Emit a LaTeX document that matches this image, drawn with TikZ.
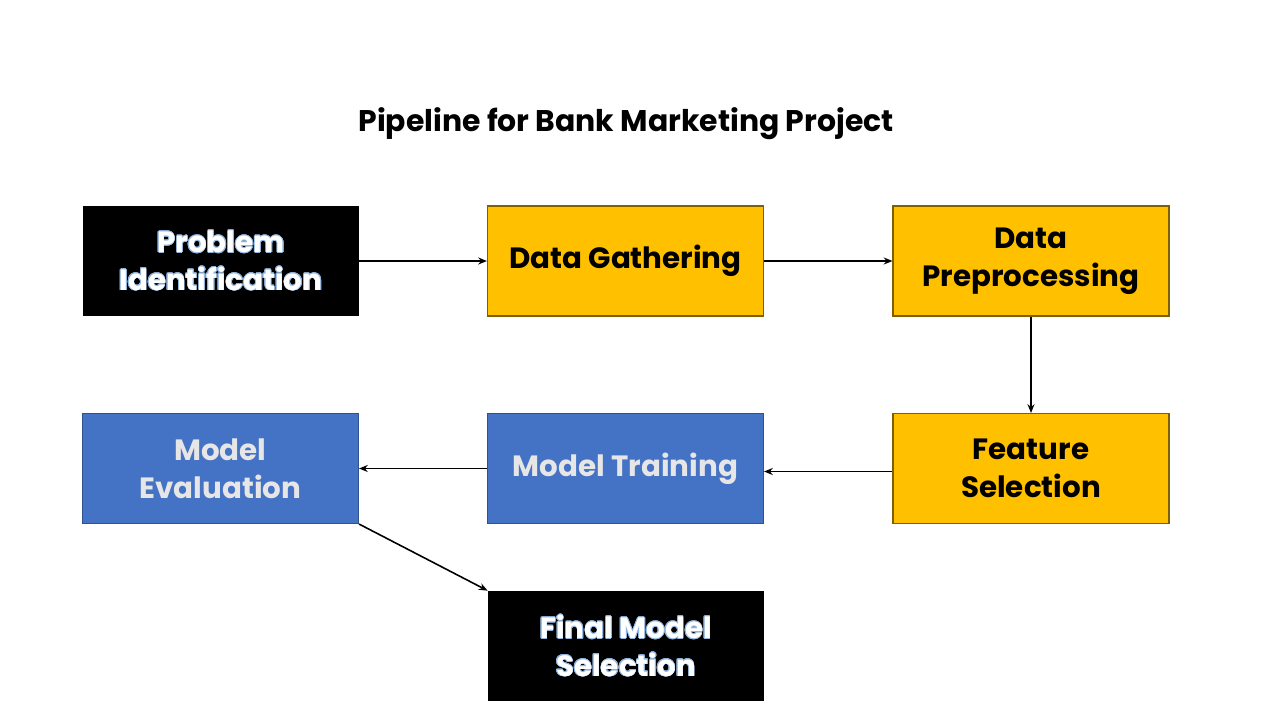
\documentclass[tikz,border=0pt]{standalone}
\usepackage{fontspec}
\setmainfont{Poppins}[UprightFont=* Bold,BoldFont=* Bold]
\usepackage{contour}
\contourlength{0.35pt}
\usetikzlibrary{arrows.meta}
\definecolor{gold}{HTML}{FFC000}
\definecolor{goldedge}{HTML}{7F6000}
\definecolor{bblue}{HTML}{4472C4}
\definecolor{bedge}{HTML}{2F528F}
\definecolor{lgray}{HTML}{E7E6E6}
\definecolor{glow}{HTML}{8FB4DE}
\begin{document}
\begin{tikzpicture}[x=0.02cm,y=-0.02cm,
  box/.style={minimum width=276*0.02cm,minimum height=110*0.02cm,inner sep=0pt,align=center,font=\fontsize{16.7}{21.5}\selectfont},
  blackbox/.style={box,fill=black,text=white},
  goldbox/.style={box,fill=gold,draw=goldedge,line width=0.6pt,text=black},
  bluebox/.style={box,fill=bblue,draw=bedge,line width=0.6pt,text=lgray},
  conn/.style={-{Stealth[length=5pt,width=4pt]},line width=0.9pt,black}]
\useasboundingbox (0,0) rectangle (1280,720);
\fill[white] (0,0) rectangle (1280,720);
\node[font=\fontsize{17}{20}\selectfont] (title) at (626,124) {Pipeline for Bank Marketing Project};
\node[blackbox] (pi) at (221,261) {\contour{glow}{Problem}\\\contour{glow}{Identification}};
\node[goldbox] (dg) at (625.5,261) {Data Gathering};
\node[goldbox] (dp) at (1031,261) {Data\\Preprocessing};
\node[goldbox] (fs) at (1031,468.5) {Feature\\Selection};
\node[bluebox] (mt) at (625.5,468.5) {Model Training};
\node[bluebox] (me) at (220.5,468.5) {Model\\Evaluation};
\node[blackbox] (fm) at (626,646) {\contour{glow}{Final Model}\\\contour{glow}{Selection}};
\draw[conn] (pi.east) -- (dg.west);
\draw[conn] (dg.east) -- (dp.west);
\draw[conn] (dp.south) -- (fs.north);
\draw[conn] ([yshift=-3*0.02cm]fs.west) -- ([yshift=-3*0.02cm]mt.east);
\draw[conn] (mt.west) -- (me.east);
\draw[conn] (me.south east) -- (fm.north west);
\end{tikzpicture}
\end{document}
